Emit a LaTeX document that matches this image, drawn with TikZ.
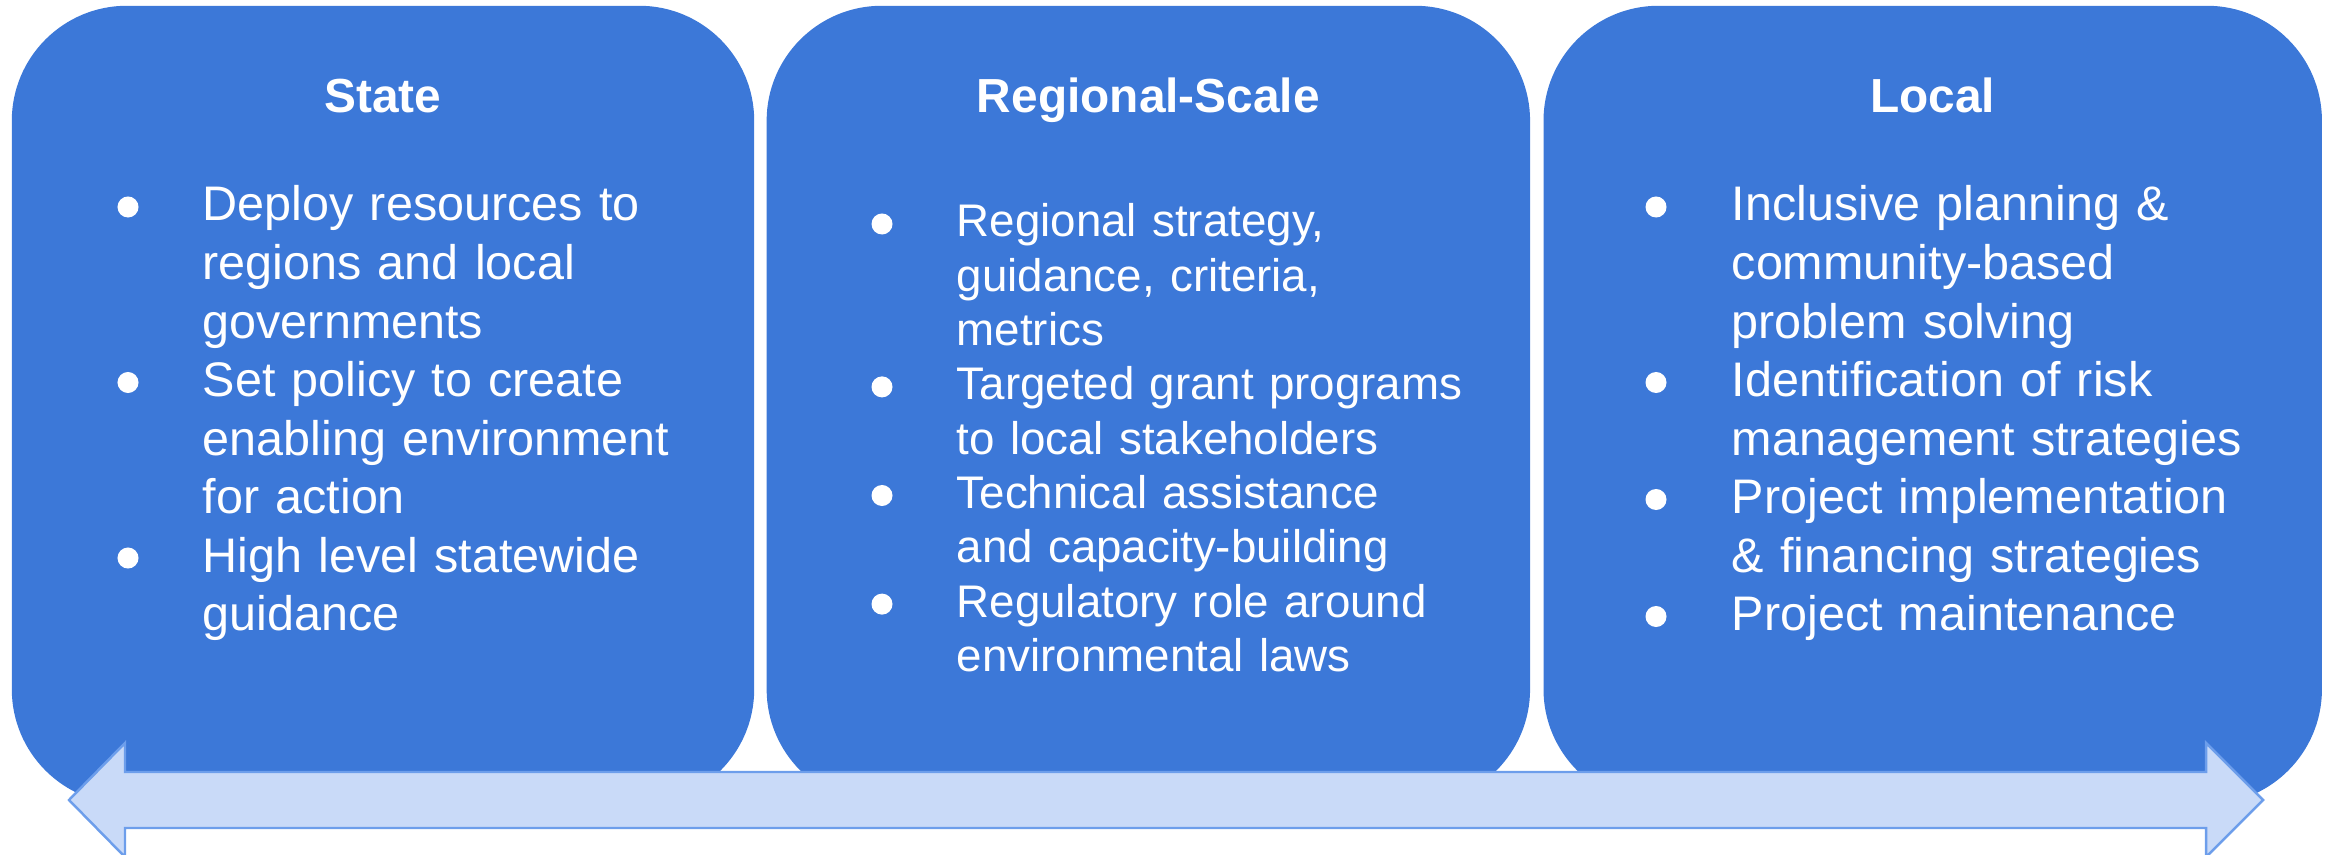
\documentclass[tikz,border=0pt]{standalone}
\usepackage{fontspec}
\setmainfont{Liberation Sans}
\usepackage{xcolor}
\usetikzlibrary{calc, positioning}

\definecolor{panelblue}{HTML}{3C78D8}
\definecolor{arrowfill}{HTML}{C9DAF8}
\definecolor{arrowline}{HTML}{6D9EEB}

\begin{document}
\begin{tikzpicture}[x=0.01cm,y=-0.01cm,
                    panel/.style={rectangle,rounded corners=1.15cm,fill=panelblue,
                      minimum height=7.98cm,inner sep=0pt},
                    paneltitle/.style={anchor=base,text=white,
                      font=\fontsize{13.6}{16}\selectfont\bfseries},
                    paneltext/.style={anchor=base west,text=white,align=left,
                      text width=7cm,inner sep=0pt,
                      font=\fontsize{13.8}{16.64}\selectfont},
                    dot/.style={fill=white}]

 \useasboundingbox (0,0) rectangle (2328,855);

 % the three panels
 \node[panel,minimum width=7.42cm] (state) at (383,405) {};
 \node[panel,minimum width=7.63cm,right=0.11cm of state] (regional) {};
 \node[panel,minimum width=7.78cm,right=0.12cm of regional] (local) {};

 \node[paneltitle] (statetitle) at (state.north |- 0,113) {State};
 \node[paneltitle] (regionaltitle) at (regional.north |- 0,113) {Regional-Scale};
 \node[paneltitle] (localtitle) at (local.north |- 0,113) {Local};

 \node[paneltext] (statetext) at (202,221) {Deploy resources to\\
   regions and local\\
   governments\\
   Set policy to create\\
   enabling environment\\
   for action\\
   High level statewide\\
   guidance};

 \node[paneltext,font=\fontsize{13}{15.45}\selectfont] (regionaltext) at (956,237) {Regional strategy,\\
   guidance, criteria,\\
   metrics\\
   Targeted grant programs\\
   to local stakeholders\\
   Technical assistance\\
   and capacity-building\\
   Regulatory role around\\
   environmental laws};

 \node[paneltext] (localtext) at (1731,221) {Inclusive planning \&\\
   community-based\\
   problem solving\\
   Identification of risk\\
   management strategies\\
   Project implementation\\
   \& financing strategies\\
   Project maintenance};

 % bullets
 \foreach \k in {0,3,6}
   \fill[dot] ($(statetext.base west)+(-74,{\k*58.5-14})$) circle[radius=0.105cm];
 \foreach \k in {0,3,5,7}
   \fill[dot] ($(regionaltext.base west)+(-74,{\k*54.3-13})$) circle[radius=0.105cm];
 \foreach \k in {0,3,5,7}
   \fill[dot] ($(localtext.base west)+(-75,{\k*58.5-14})$) circle[radius=0.105cm];

 % scale arrow
 \draw[fill=arrowfill,draw=arrowline,line width=0.7pt,line join=miter]
   (69,800) -- (125,743) -- (125,772) -- (2206,772) -- (2206,743)
   -- (2263,800) -- (2206,857) -- (2206,828) -- (125,828) -- (125,857) -- cycle;

\end{tikzpicture}
\end{document}
